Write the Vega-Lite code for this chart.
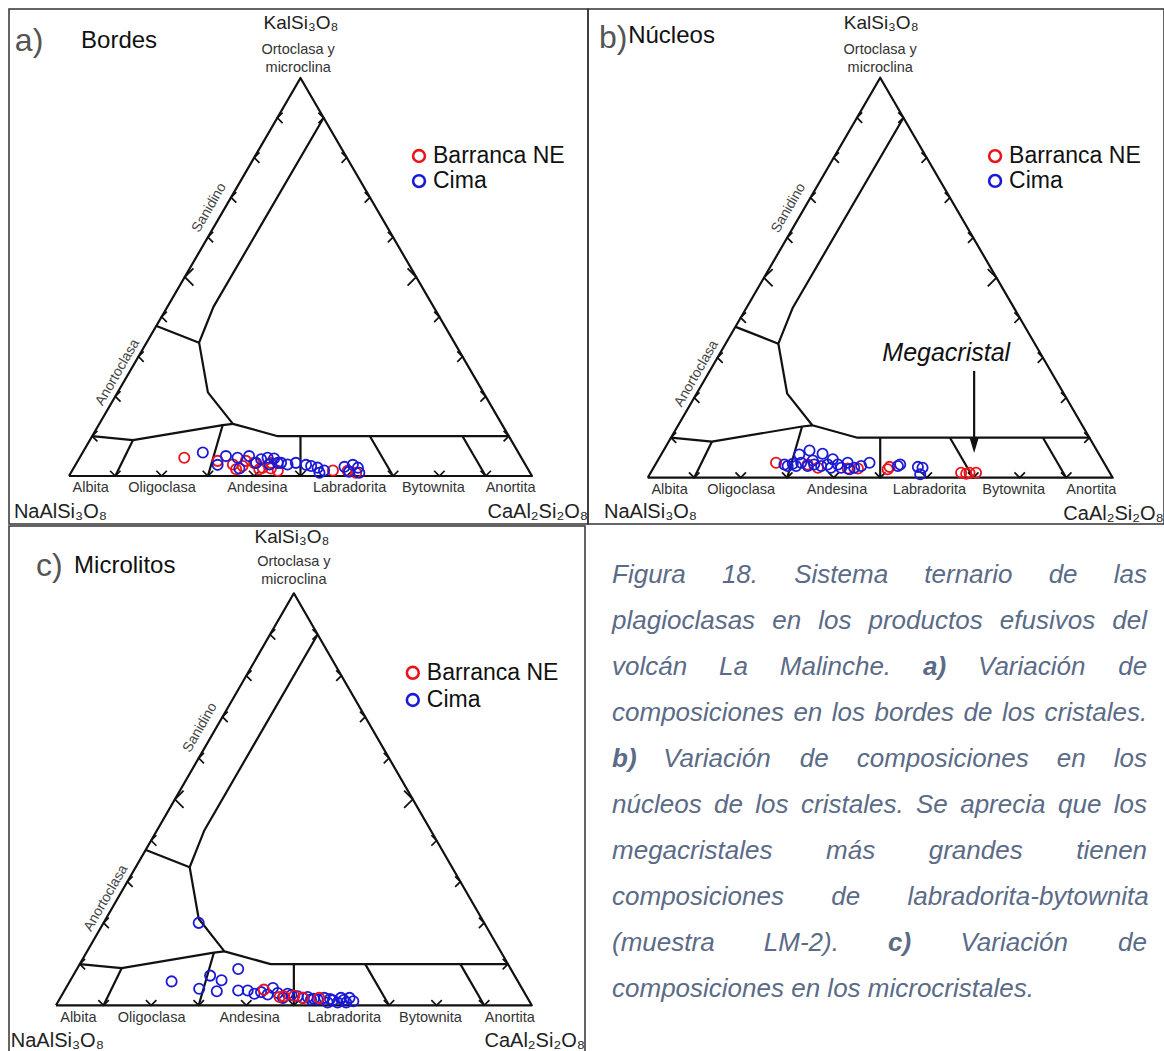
{
  "$schema": "https://vega.github.io/schema/vega-lite/v6.json",
  "padding": {"left": 8, "top": 8, "right": 0, "bottom": 0},
  "background": "white",
  "config": {
    "font": "Liberation Sans",
    "view": {"stroke": "#333333", "strokeWidth": 1.5}
  },
  "datasets": {
    "lines": [
      {"seg": "tri", "i": 0, "x": 0, "y": 0}, {"seg": "tri", "i": 1, "x": 50, "y": 100}, {"seg": "tri", "i": 2, "x": 100, "y": 0}, {"seg": "tri", "i": 3, "x": 0, "y": 0},
      {"seg": "c1", "i": 0, "x": 55, "y": 90}, {"seg": "c1", "i": 1, "x": 31.2, "y": 42.5}, {"seg": "c1", "i": 2, "x": 29.3, "y": 37}, {"seg": "c1", "i": 3, "x": 28.1, "y": 33.5}, {"seg": "c1", "i": 4, "x": 30, "y": 21}, {"seg": "c1", "i": 5, "x": 35.4, "y": 13.1}, {"seg": "c1", "i": 6, "x": 45.1, "y": 10}, {"seg": "c1", "i": 7, "x": 95, "y": 10},
      {"seg": "c2", "i": 0, "x": 18.9, "y": 37.7}, {"seg": "c2", "i": 1, "x": 28.1, "y": 33.5},
      {"seg": "c3", "i": 0, "x": 5, "y": 10}, {"seg": "c3", "i": 1, "x": 13.8, "y": 9.0}, {"seg": "c3", "i": 2, "x": 33.2, "y": 12.8}, {"seg": "c3", "i": 3, "x": 35.4, "y": 13.1},
      {"seg": "d1", "i": 0, "x": 13.8, "y": 9.0}, {"seg": "d1", "i": 1, "x": 10, "y": 0},
      {"seg": "d2", "i": 0, "x": 33.2, "y": 12.8}, {"seg": "d2", "i": 1, "x": 30, "y": 0},
      {"seg": "d3", "i": 0, "x": 50, "y": 10}, {"seg": "d3", "i": 1, "x": 50, "y": 0},
      {"seg": "d4", "i": 0, "x": 65, "y": 10}, {"seg": "d4", "i": 1, "x": 70, "y": 0},
      {"seg": "d5", "i": 0, "x": 85, "y": 10}, {"seg": "d5", "i": 1, "x": 90, "y": 0}
    ],
    "chev": [
      {"side": "L", "k": 1, "x": 5, "y": 10}, {"side": "L", "k": 2, "x": 10, "y": 20}, {"side": "L", "k": 3, "x": 15, "y": 30}, {"side": "L", "k": 4, "x": 20, "y": 40}, {"side": "L", "k": 5, "x": 25, "y": 50}, {"side": "L", "k": 6, "x": 30, "y": 60}, {"side": "L", "k": 7, "x": 35, "y": 70}, {"side": "L", "k": 8, "x": 40, "y": 80}, {"side": "L", "k": 9, "x": 45, "y": 90},
      {"side": "R", "k": 1, "x": 95, "y": 10}, {"side": "R", "k": 2, "x": 90, "y": 20}, {"side": "R", "k": 3, "x": 85, "y": 30}, {"side": "R", "k": 4, "x": 80, "y": 40}, {"side": "R", "k": 5, "x": 75, "y": 50}, {"side": "R", "k": 6, "x": 70, "y": 60}, {"side": "R", "k": 7, "x": 65, "y": 70}, {"side": "R", "k": 8, "x": 60, "y": 80}, {"side": "R", "k": 9, "x": 55, "y": 90},
      {"side": "B", "k": 1, "x": 10, "y": 0}, {"side": "B", "k": 2, "x": 20, "y": 0}, {"side": "B", "k": 3, "x": 30, "y": 0}, {"side": "B", "k": 4, "x": 40, "y": 0}, {"side": "B", "k": 5, "x": 50, "y": 0}, {"side": "B", "k": 6, "x": 60, "y": 0}, {"side": "B", "k": 7, "x": 70, "y": 0}, {"side": "B", "k": 8, "x": 80, "y": 0}, {"side": "B", "k": 9, "x": 90, "y": 0}
    ],
    "minerals": [
      {"t": "Albita", "x": 4.7, "y": -3}, {"t": "Oligoclasa", "x": 20.1, "y": -3}, {"t": "Andesina", "x": 40.7, "y": -3},
      {"t": "Labradorita", "x": 60.6, "y": -3}, {"t": "Bytownita", "x": 78.7, "y": -3}, {"t": "Anortita", "x": 95.4, "y": -3}
    ],
    "edge": [
      {"t": "Sanidino", "x": 30.3, "y": 67.4}, {"t": "Anortoclasa", "x": 10.5, "y": 26.0}
    ],
    "pts": [
      {"panel": "a", "grupo": "Barranca NE", "x": 24.9, "y": 4.6}, {"panel": "a", "grupo": "Barranca NE", "x": 32.1, "y": 3.8}, {"panel": "a", "grupo": "Barranca NE", "x": 35.4, "y": 2.9}, {"panel": "a", "grupo": "Barranca NE", "x": 37.5, "y": 2.5}, {"panel": "a", "grupo": "Barranca NE", "x": 40.0, "y": 3.3}, {"panel": "a", "grupo": "Barranca NE", "x": 41.8, "y": 2.1}, {"panel": "a", "grupo": "Barranca NE", "x": 43.6, "y": 1.9}, {"panel": "a", "grupo": "Barranca NE", "x": 45.1, "y": 1.3}, {"panel": "a", "grupo": "Barranca NE", "x": 43.6, "y": 3.3}, {"panel": "a", "grupo": "Barranca NE", "x": 38.2, "y": 3.8}, {"panel": "a", "grupo": "Barranca NE", "x": 57.0, "y": 1.4}, {"panel": "a", "grupo": "Barranca NE", "x": 60.2, "y": 1.3}, {"panel": "a", "grupo": "Barranca NE", "x": 62.0, "y": 0.8}, {"panel": "a", "grupo": "Barranca NE", "x": 36.1, "y": 1.7}, {"panel": "a", "grupo": "Barranca NE", "x": 41.1, "y": 1.7},
      {"panel": "a", "grupo": "Cima", "x": 28.9, "y": 5.9}, {"panel": "a", "grupo": "Cima", "x": 32.1, "y": 2.8}, {"panel": "a", "grupo": "Cima", "x": 33.9, "y": 5.0}, {"panel": "a", "grupo": "Cima", "x": 36.4, "y": 4.6}, {"panel": "a", "grupo": "Cima", "x": 38.9, "y": 5.0}, {"panel": "a", "grupo": "Cima", "x": 36.8, "y": 1.9}, {"panel": "a", "grupo": "Cima", "x": 41.5, "y": 4.2}, {"panel": "a", "grupo": "Cima", "x": 42.9, "y": 4.6}, {"panel": "a", "grupo": "Cima", "x": 44.3, "y": 4.4}, {"panel": "a", "grupo": "Cima", "x": 45.1, "y": 3.3}, {"panel": "a", "grupo": "Cima", "x": 47.2, "y": 2.9}, {"panel": "a", "grupo": "Cima", "x": 49.0, "y": 3.3}, {"panel": "a", "grupo": "Cima", "x": 51.2, "y": 2.8}, {"panel": "a", "grupo": "Cima", "x": 52.3, "y": 2.5}, {"panel": "a", "grupo": "Cima", "x": 53.7, "y": 2.1}, {"panel": "a", "grupo": "Cima", "x": 54.1, "y": 0.8}, {"panel": "a", "grupo": "Cima", "x": 55.1, "y": 1.4}, {"panel": "a", "grupo": "Cima", "x": 59.5, "y": 2.3}, {"panel": "a", "grupo": "Cima", "x": 61.3, "y": 2.8}, {"panel": "a", "grupo": "Cima", "x": 62.4, "y": 2.1}, {"panel": "a", "grupo": "Cima", "x": 62.7, "y": 0.8}, {"panel": "a", "grupo": "Cima", "x": 60.5, "y": 1.1}, {"panel": "a", "grupo": "Cima", "x": 45.8, "y": 3.3}, {"panel": "a", "grupo": "Cima", "x": 40.4, "y": 3.3}, {"panel": "a", "grupo": "Cima", "x": 43.3, "y": 2.9},
      {"panel": "b", "grupo": "Barranca NE", "x": 27.6, "y": 3.75}, {"panel": "b", "grupo": "Barranca NE", "x": 34.4, "y": 3.3}, {"panel": "b", "grupo": "Barranca NE", "x": 36.6, "y": 2.5}, {"panel": "b", "grupo": "Barranca NE", "x": 43.0, "y": 2.3}, {"panel": "b", "grupo": "Barranca NE", "x": 45.2, "y": 2.3}, {"panel": "b", "grupo": "Barranca NE", "x": 51.6, "y": 2.1}, {"panel": "b", "grupo": "Barranca NE", "x": 52.0, "y": 2.7}, {"panel": "b", "grupo": "Barranca NE", "x": 67.4, "y": 1.25}, {"panel": "b", "grupo": "Barranca NE", "x": 69.2, "y": 1.25}, {"panel": "b", "grupo": "Barranca NE", "x": 70.6, "y": 1.25}, {"panel": "b", "grupo": "Barranca NE", "x": 68.5, "y": 1.0},
      {"panel": "b", "grupo": "Cima", "x": 29.4, "y": 3.3}, {"panel": "b", "grupo": "Cima", "x": 31.2, "y": 3.5}, {"panel": "b", "grupo": "Cima", "x": 32.6, "y": 5.8}, {"panel": "b", "grupo": "Cima", "x": 34.8, "y": 6.8}, {"panel": "b", "grupo": "Cima", "x": 37.6, "y": 6.0}, {"panel": "b", "grupo": "Cima", "x": 33.0, "y": 3.75}, {"panel": "b", "grupo": "Cima", "x": 34.4, "y": 2.9}, {"panel": "b", "grupo": "Cima", "x": 35.8, "y": 3.3}, {"panel": "b", "grupo": "Cima", "x": 37.3, "y": 2.9}, {"panel": "b", "grupo": "Cima", "x": 38.7, "y": 3.3}, {"panel": "b", "grupo": "Cima", "x": 39.8, "y": 4.6}, {"panel": "b", "grupo": "Cima", "x": 39.4, "y": 2.5}, {"panel": "b", "grupo": "Cima", "x": 41.6, "y": 2.5}, {"panel": "b", "grupo": "Cima", "x": 43.0, "y": 3.75}, {"panel": "b", "grupo": "Cima", "x": 44.4, "y": 2.5}, {"panel": "b", "grupo": "Cima", "x": 45.9, "y": 2.9}, {"panel": "b", "grupo": "Cima", "x": 47.7, "y": 3.75}, {"panel": "b", "grupo": "Cima", "x": 35.5, "y": 4.3}, {"panel": "b", "grupo": "Cima", "x": 30.1, "y": 2.9}, {"panel": "b", "grupo": "Cima", "x": 40.9, "y": 3.3}, {"panel": "b", "grupo": "Cima", "x": 31.9, "y": 2.9}, {"panel": "b", "grupo": "Cima", "x": 43.4, "y": 2.1}, {"panel": "b", "grupo": "Cima", "x": 53.8, "y": 2.9}, {"panel": "b", "grupo": "Cima", "x": 54.3, "y": 3.3}, {"panel": "b", "grupo": "Cima", "x": 58.1, "y": 2.7}, {"panel": "b", "grupo": "Cima", "x": 59.1, "y": 2.5}, {"panel": "b", "grupo": "Cima", "x": 58.6, "y": 0.85},
      {"panel": "c", "grupo": "Cima", "x": 30.0, "y": 20.0}, {"panel": "c", "grupo": "Cima", "x": 24.3, "y": 5.8}, {"panel": "c", "grupo": "Cima", "x": 30.1, "y": 4.0}, {"panel": "c", "grupo": "Cima", "x": 32.4, "y": 7.2}, {"panel": "c", "grupo": "Cima", "x": 34.8, "y": 6.1}, {"panel": "c", "grupo": "Cima", "x": 33.8, "y": 3.4}, {"panel": "c", "grupo": "Cima", "x": 38.3, "y": 8.8}, {"panel": "c", "grupo": "Cima", "x": 38.3, "y": 3.6}, {"panel": "c", "grupo": "Cima", "x": 40.3, "y": 3.6}, {"panel": "c", "grupo": "Cima", "x": 41.7, "y": 2.8}, {"panel": "c", "grupo": "Cima", "x": 43.1, "y": 3.2}, {"panel": "c", "grupo": "Cima", "x": 45.6, "y": 4.2}, {"panel": "c", "grupo": "Cima", "x": 44.5, "y": 2.6}, {"panel": "c", "grupo": "Cima", "x": 46.6, "y": 3.0}, {"panel": "c", "grupo": "Cima", "x": 48.7, "y": 2.8}, {"panel": "c", "grupo": "Cima", "x": 50.8, "y": 2.2}, {"panel": "c", "grupo": "Cima", "x": 52.9, "y": 2.0}, {"panel": "c", "grupo": "Cima", "x": 55.0, "y": 1.4}, {"panel": "c", "grupo": "Cima", "x": 56.4, "y": 1.8}, {"panel": "c", "grupo": "Cima", "x": 58.2, "y": 1.2}, {"panel": "c", "grupo": "Cima", "x": 59.9, "y": 1.8}, {"panel": "c", "grupo": "Cima", "x": 61.7, "y": 1.8}, {"panel": "c", "grupo": "Cima", "x": 61.0, "y": 0.7}, {"panel": "c", "grupo": "Cima", "x": 59.2, "y": 0.7}, {"panel": "c", "grupo": "Cima", "x": 57.1, "y": 0.7}, {"panel": "c", "grupo": "Cima", "x": 53.6, "y": 1.4}, {"panel": "c", "grupo": "Cima", "x": 51.9, "y": 1.8}, {"panel": "c", "grupo": "Cima", "x": 47.7, "y": 1.8}, {"panel": "c", "grupo": "Cima", "x": 49.5, "y": 2.5}, {"panel": "c", "grupo": "Cima", "x": 54.2, "y": 1.6}, {"panel": "c", "grupo": "Cima", "x": 57.6, "y": 1.5}, {"panel": "c", "grupo": "Cima", "x": 60.5, "y": 1.3}, {"panel": "c", "grupo": "Cima", "x": 62.5, "y": 1.0},
      {"panel": "c", "grupo": "Barranca NE", "x": 43.7, "y": 3.8}, {"panel": "c", "grupo": "Barranca NE", "x": 47.0, "y": 2.0}, {"panel": "c", "grupo": "Barranca NE", "x": 47.9, "y": 2.2}, {"panel": "c", "grupo": "Barranca NE", "x": 50.1, "y": 2.3}, {"panel": "c", "grupo": "Barranca NE", "x": 51.9, "y": 1.8}, {"panel": "c", "grupo": "Barranca NE", "x": 55.3, "y": 1.8}
    ],
    "cap": [
      {"line": 1, "x": 0, "w": "Figura"}, {"line": 1, "x": 20.54, "w": "18."}, {"line": 1, "x": 34.06, "w": "Sistema"}, {"line": 1, "x": 58.37, "w": "ternario"}, {"line": 1, "x": 81.61, "w": "de"}, {"line": 1, "x": 93.78, "w": "las"},
      {"line": 2, "x": 0, "w": "plagioclasas"}, {"line": 2, "x": 29.94, "w": "en"}, {"line": 2, "x": 38.54, "w": "los"}, {"line": 2, "x": 47.94, "w": "productos"}, {"line": 2, "x": 72.49, "w": "efusivos"}, {"line": 2, "x": 93.51, "w": "del"},
      {"line": 3, "x": 0, "w": "volcán"}, {"line": 3, "x": 20.0, "w": "La"}, {"line": 3, "x": 31.36, "w": "Malinche."}, {"line": 3, "x": 68.41, "w": "Variación"}, {"line": 3, "x": 94.63, "w": "de"},
      {"line": 4, "x": 0, "w": "composiciones"}, {"line": 4, "x": 33.9, "w": "en"}, {"line": 4, "x": 41.08, "w": "los"}, {"line": 4, "x": 49.07, "w": "bordes"}, {"line": 4, "x": 65.7, "w": "de"}, {"line": 4, "x": 72.88, "w": "los"}, {"line": 4, "x": 80.86, "w": "cristales."},
      {"line": 5, "x": 9.57, "w": "Variación"}, {"line": 5, "x": 35.08, "w": "de"}, {"line": 5, "x": 45.74, "w": "composiciones"}, {"line": 5, "x": 83.12, "w": "en"}, {"line": 5, "x": 93.78, "w": "los"},
      {"line": 6, "x": 0, "w": "núcleos"}, {"line": 6, "x": 19.07, "w": "de"}, {"line": 6, "x": 26.79, "w": "los"}, {"line": 6, "x": 35.33, "w": "cristales."}, {"line": 6, "x": 56.82, "w": "Se"}, {"line": 6, "x": 65.08, "w": "aprecia"}, {"line": 6, "x": 83.36, "w": "que"}, {"line": 6, "x": 93.79, "w": "los"},
      {"line": 7, "x": 0, "w": "megacristales"}, {"line": 7, "x": 40.0, "w": "más"}, {"line": 7, "x": 59.2, "w": "grandes"}, {"line": 7, "x": 86.77, "w": "tienen"},
      {"line": 8, "x": 0, "w": "composiciones"}, {"line": 8, "x": 40.97, "w": "de"}, {"line": 8, "x": 55.21, "w": "labradorita-bytownita"},
      {"line": 9, "x": 0, "w": "(muestra"}, {"line": 9, "x": 28.37, "w": "LM-2)."}, {"line": 9, "x": 65.12, "w": "Variación"}, {"line": 9, "x": 94.58, "w": "de"},
      {"line": 10, "x": 0, "w": "composiciones en los microcristales."}
    ],
    "capBold": [
      {"line": 3, "x": 58.13, "w": "a)"}, {"line": 5, "x": 0, "w": "b)"}, {"line": 9, "x": 51.6, "w": "c)"}
    ]
  },
  "spacing": 0,
  "vconcat": [
    {
      "spacing": 0,
      "bounds": "flush",
      "hconcat": [
        {
          "width": 579,
          "height": 515,
          "encoding": {
            "x": {"field": "x", "type": "quantitative", "scale": {"domain": [-12.96, 112.1], "nice": false, "zero": false}, "axis": null},
            "y": {"field": "y", "type": "quantitative", "scale": {"domain": [-12.06, 117.34], "nice": false, "zero": false}, "axis": null}
          },
          "layer": [
            {"data": {"name": "lines"}, "mark": {"type": "line", "stroke": "#111111", "strokeWidth": 2.2, "strokeJoin": "round"}, "encoding": {"detail": {"field": "seg"}, "order": {"field": "i", "type": "quantitative"}}},
            {"data": {"name": "chev"}, "transform": [{"filter": "!(datum.k == 5 && datum.side != 'B')"}], "mark": {"type": "point", "filled": false, "stroke": "#111111", "strokeWidth": 1.7, "opacity": 1, "size": 110}, "encoding": {"shape": {"field": "side", "type": "nominal", "scale": {"domain": ["L", "R", "B"], "range": ["M1,-1L0,0L1,1", "M-1,-1L0,0L-1,1", "M-1,-1L0,0L1,-1"]}, "legend": null}}},
            {"data": {"name": "chev"}, "transform": [{"filter": "datum.k == 5 && datum.side != 'B'"}], "mark": {"type": "point", "filled": false, "stroke": "#111111", "strokeWidth": 1.8, "opacity": 1, "size": 300}, "encoding": {"shape": {"field": "side", "type": "nominal", "scale": {"domain": ["L", "R", "B"], "range": ["M1,-1L0,0L1,1", "M-1,-1L0,0L-1,1", "M-1,-1L0,0L1,-1"]}, "legend": null}}},
            {"data": {"name": "minerals"}, "mark": {"type": "text", "fontSize": 14.5, "color": "#333333"}, "encoding": {"text": {"field": "t"}}},
            {"data": {"name": "edge"}, "mark": {"type": "text", "fontSize": 14, "color": "#444444", "angle": -60}, "encoding": {"text": {"field": "t"}}},
            {"data": {"values": [{"t": "KalSi₃O₈", "x": 50.1, "y": 113.8}]}, "mark": {"type": "text", "fontSize": 19, "color": "#222222"}, "encoding": {"text": {"field": "t"}}},
            {"data": {"values": [{"t": "Ortoclasa y", "x": 49.5, "y": 107.0}, {"t": "microclina", "x": 49.5, "y": 102.5}]}, "mark": {"type": "text", "fontSize": 14.5, "color": "#333333"}, "encoding": {"text": {"field": "t"}}},
            {"data": {"values": [{"t": "NaAlSi₃O₈", "x": -11.9, "y": -9.0}]}, "mark": {"type": "text", "fontSize": 20, "align": "left", "color": "#222222"}, "encoding": {"text": {"field": "t"}}},
            {"data": {"values": [{"t": "CaAl₂Si₂O₈", "x": 112.1, "y": -9.0}]}, "mark": {"type": "text", "fontSize": 20, "align": "right", "color": "#222222"}, "encoding": {"text": {"field": "t"}}},
            {"data": {"values": [{"t": "a)", "x": -11.7, "y": 109.3}]}, "mark": {"type": "text", "fontSize": 32, "align": "left", "color": "#555555"}, "encoding": {"text": {"field": "t"}}},
            {"data": {"values": [{"t": "Bordes", "x": 2.6, "y": 109.3}]}, "mark": {"type": "text", "fontSize": 24, "align": "left", "color": "#111111"}, "encoding": {"text": {"field": "t"}}},
            {"data": {"name": "pts"}, "transform": [{"filter": "datum.panel == 'a'"}], "mark": {"type": "point", "shape": "circle", "filled": false, "strokeWidth": 1.8, "size": 105, "opacity": 1}, "encoding": {"color": {"field": "grupo", "type": "nominal", "scale": {"domain": ["Barranca NE", "Cima"], "range": ["#e8141c", "#1a1ad6"]}, "legend": null}}},
            {"data": {"values": [{"grupo": "Barranca NE", "x": 75.6, "y": 80.4}, {"grupo": "Cima", "x": 75.6, "y": 74.1}]}, "mark": {"type": "point", "shape": "circle", "filled": false, "strokeWidth": 2.6, "size": 140, "opacity": 1}, "encoding": {"color": {"field": "grupo", "type": "nominal", "legend": null}}},
            {"data": {"values": [{"grupo": "Barranca NE", "x": 75.6, "y": 80.4}, {"grupo": "Cima", "x": 75.6, "y": 74.1}]}, "mark": {"type": "text", "fontSize": 23, "align": "left", "dx": 14, "color": "#111111"}, "encoding": {"text": {"field": "grupo"}}}
          ]
        },
        {
          "width": 576,
          "height": 515,
          "encoding": {
            "x": {"field": "x", "type": "quantitative", "scale": {"domain": [-12.84, 111.03], "nice": false, "zero": false}, "axis": null},
            "y": {"field": "y", "type": "quantitative", "scale": {"domain": [-11.58, 117.18], "nice": false, "zero": false}, "axis": null}
          },
          "layer": [
            {"data": {"name": "lines"}, "mark": {"type": "line", "stroke": "#111111", "strokeWidth": 2.2, "strokeJoin": "round"}, "encoding": {"detail": {"field": "seg"}, "order": {"field": "i", "type": "quantitative"}}},
            {"data": {"name": "chev"}, "transform": [{"filter": "!(datum.k == 5 && datum.side != 'B')"}], "mark": {"type": "point", "filled": false, "stroke": "#111111", "strokeWidth": 1.7, "opacity": 1, "size": 110}, "encoding": {"shape": {"field": "side", "type": "nominal", "scale": {"domain": ["L", "R", "B"], "range": ["M1,-1L0,0L1,1", "M-1,-1L0,0L-1,1", "M-1,-1L0,0L1,-1"]}, "legend": null}}},
            {"data": {"name": "chev"}, "transform": [{"filter": "datum.k == 5 && datum.side != 'B'"}], "mark": {"type": "point", "filled": false, "stroke": "#111111", "strokeWidth": 1.8, "opacity": 1, "size": 300}, "encoding": {"shape": {"field": "side", "type": "nominal", "scale": {"domain": ["L", "R", "B"], "range": ["M1,-1L0,0L1,1", "M-1,-1L0,0L-1,1", "M-1,-1L0,0L1,-1"]}, "legend": null}}},
            {"data": {"name": "minerals"}, "mark": {"type": "text", "fontSize": 14.5, "color": "#333333"}, "encoding": {"text": {"field": "t"}}},
            {"data": {"name": "edge"}, "mark": {"type": "text", "fontSize": 14, "color": "#444444", "angle": -60}, "encoding": {"text": {"field": "t"}}},
            {"data": {"values": [{"t": "KalSi₃O₈", "x": 50.2, "y": 113.7}]}, "mark": {"type": "text", "fontSize": 19, "color": "#222222"}, "encoding": {"text": {"field": "t"}}},
            {"data": {"values": [{"t": "Ortoclasa y", "x": 50.0, "y": 106.9}, {"t": "microclina", "x": 50.0, "y": 102.4}]}, "mark": {"type": "text", "fontSize": 14.5, "color": "#333333"}, "encoding": {"text": {"field": "t"}}},
            {"data": {"values": [{"t": "NaAlSi₃O₈", "x": -9.4, "y": -8.6}]}, "mark": {"type": "text", "fontSize": 20, "align": "left", "color": "#222222"}, "encoding": {"text": {"field": "t"}}},
            {"data": {"values": [{"t": "CaAl₂Si₂O₈", "x": 111.0, "y": -9.1}]}, "mark": {"type": "text", "fontSize": 20, "align": "right", "color": "#222222"}, "encoding": {"text": {"field": "t"}}},
            {"data": {"values": [{"t": "b)", "x": -10.5, "y": 109.9}]}, "mark": {"type": "text", "fontSize": 32, "align": "left", "color": "#555555"}, "encoding": {"text": {"field": "t"}}},
            {"data": {"values": [{"t": "Núcleos", "x": -4.2, "y": 110.4}]}, "mark": {"type": "text", "fontSize": 24, "align": "left", "color": "#111111"}, "encoding": {"text": {"field": "t"}}},
            {"data": {"values": [{"t": "Megacristal", "x": 64.2, "y": 31.2}]}, "mark": {"type": "text", "fontSize": 25, "fontStyle": "italic", "color": "#111111"}, "encoding": {"text": {"field": "t"}}},
            {"data": {"values": [{"seg": "arr", "i": 0, "x": 70.2, "y": 26.7}, {"seg": "arr", "i": 1, "x": 70.2, "y": 9.5}]}, "mark": {"type": "line", "stroke": "#111111", "strokeWidth": 2.2}, "encoding": {"order": {"field": "i", "type": "quantitative"}}},
            {"data": {"values": [{"x": 70.2, "y": 8.05}]}, "mark": {"type": "point", "shape": "M-0.6,-1L0.6,-1L0,1Z", "filled": true, "color": "#111111", "size": 225, "opacity": 1}, "encoding": {}},
            {"data": {"name": "pts"}, "transform": [{"filter": "datum.panel == 'b'"}], "mark": {"type": "point", "shape": "circle", "filled": false, "strokeWidth": 1.8, "size": 105, "opacity": 1}, "encoding": {"color": {"field": "grupo", "type": "nominal", "scale": {"domain": ["Barranca NE", "Cima"], "range": ["#e8141c", "#1a1ad6"]}, "legend": null}}},
            {"data": {"values": [{"grupo": "Barranca NE", "x": 74.7, "y": 80.4}, {"grupo": "Cima", "x": 74.7, "y": 74.2}]}, "mark": {"type": "point", "shape": "circle", "filled": false, "strokeWidth": 2.6, "size": 140, "opacity": 1}, "encoding": {"color": {"field": "grupo", "type": "nominal", "legend": null}}},
            {"data": {"values": [{"grupo": "Barranca NE", "x": 74.7, "y": 80.4}, {"grupo": "Cima", "x": 74.7, "y": 74.2}]}, "mark": {"type": "text", "fontSize": 23, "align": "left", "dx": 14, "color": "#111111"}, "encoding": {"text": {"field": "grupo"}}}
          ]
        }
      ]
    },
    {
      "spacing": 0,
      "bounds": "flush",
      "hconcat": [
        {
          "width": 576,
          "height": 527,
          "encoding": {
            "x": {"field": "x", "type": "quantitative", "scale": {"domain": [-9.88, 111.2], "nice": false, "zero": false}, "axis": null},
            "y": {"field": "y", "type": "quantitative", "scale": {"domain": [-11.58, 116.33], "nice": false, "zero": false}, "axis": null}
          },
          "layer": [
            {"data": {"name": "lines"}, "mark": {"type": "line", "stroke": "#111111", "strokeWidth": 2.2, "strokeJoin": "round"}, "encoding": {"detail": {"field": "seg"}, "order": {"field": "i", "type": "quantitative"}}},
            {"data": {"name": "chev"}, "transform": [{"filter": "!(datum.k == 5 && datum.side != 'B')"}], "mark": {"type": "point", "filled": false, "stroke": "#111111", "strokeWidth": 1.7, "opacity": 1, "size": 110}, "encoding": {"shape": {"field": "side", "type": "nominal", "scale": {"domain": ["L", "R", "B"], "range": ["M1,-1L0,0L1,1", "M-1,-1L0,0L-1,1", "M-1,-1L0,0L1,-1"]}, "legend": null}}},
            {"data": {"name": "chev"}, "transform": [{"filter": "datum.k == 5 && datum.side != 'B'"}], "mark": {"type": "point", "filled": false, "stroke": "#111111", "strokeWidth": 1.8, "opacity": 1, "size": 300}, "encoding": {"shape": {"field": "side", "type": "nominal", "scale": {"domain": ["L", "R", "B"], "range": ["M1,-1L0,0L1,1", "M-1,-1L0,0L-1,1", "M-1,-1L0,0L1,-1"]}, "legend": null}}},
            {"data": {"name": "minerals"}, "mark": {"type": "text", "fontSize": 14.5, "color": "#333333"}, "encoding": {"text": {"field": "t"}}},
            {"data": {"name": "edge"}, "mark": {"type": "text", "fontSize": 14, "color": "#444444", "angle": -60}, "encoding": {"text": {"field": "t"}}},
            {"data": {"values": [{"t": "KalSi₃O₈", "x": 49.6, "y": 113.7}]}, "mark": {"type": "text", "fontSize": 19, "color": "#222222"}, "encoding": {"text": {"field": "t"}}},
            {"data": {"values": [{"t": "Ortoclasa y", "x": 50.0, "y": 107.6}, {"t": "microclina", "x": 50.0, "y": 103.2}]}, "mark": {"type": "text", "fontSize": 14.5, "color": "#333333"}, "encoding": {"text": {"field": "t"}}},
            {"data": {"values": [{"t": "NaAlSi₃O₈", "x": -9.5, "y": -8.6}]}, "mark": {"type": "text", "fontSize": 20, "align": "left", "color": "#222222"}, "encoding": {"text": {"field": "t"}}},
            {"data": {"values": [{"t": "CaAl₂Si₂O₈", "x": 111.2, "y": -8.6}]}, "mark": {"type": "text", "fontSize": 20, "align": "right", "color": "#222222"}, "encoding": {"text": {"field": "t"}}},
            {"data": {"values": [{"t": "c)", "x": -4.2, "y": 106.6}]}, "mark": {"type": "text", "fontSize": 32, "align": "left", "color": "#555555"}, "encoding": {"text": {"field": "t"}}},
            {"data": {"values": [{"t": "Microlitos", "x": 3.8, "y": 106.6}]}, "mark": {"type": "text", "fontSize": 24, "align": "left", "color": "#111111"}, "encoding": {"text": {"field": "t"}}},
            {"data": {"name": "pts"}, "transform": [{"filter": "datum.panel == 'c'"}], "mark": {"type": "point", "shape": "circle", "filled": false, "strokeWidth": 1.8, "size": 105, "opacity": 1}, "encoding": {"color": {"field": "grupo", "type": "nominal", "scale": {"domain": ["Barranca NE", "Cima"], "range": ["#e8141c", "#1a1ad6"]}, "legend": null}}},
            {"data": {"values": [{"grupo": "Barranca NE", "x": 75.0, "y": 80.7}, {"grupo": "Cima", "x": 75.0, "y": 74.1}]}, "mark": {"type": "point", "shape": "circle", "filled": false, "strokeWidth": 2.6, "size": 140, "opacity": 1}, "encoding": {"color": {"field": "grupo", "type": "nominal", "legend": null}}},
            {"data": {"values": [{"grupo": "Barranca NE", "x": 75.0, "y": 80.7}, {"grupo": "Cima", "x": 75.0, "y": 74.1}]}, "mark": {"type": "text", "fontSize": 23, "align": "left", "dx": 14, "color": "#111111"}, "encoding": {"text": {"field": "grupo"}}}
          ]
        },
        {
          "width": 580,
          "height": 527,
          "view": {"stroke": null},
          "encoding": {
            "x": {"field": "x", "type": "quantitative", "scale": {"domain": [-5.05, 103.36], "nice": false, "zero": false}, "axis": null},
            "y": {"field": "line", "type": "quantitative", "scale": {"domain": [-0.065, 11.391], "nice": false, "zero": false, "reverse": true}, "axis": null},
            "text": {"field": "w"}
          },
          "layer": [
            {"data": {"name": "cap"}, "mark": {"type": "text", "align": "left", "fontSize": 26, "fontStyle": "italic", "color": "#5b6b87"}},
            {"data": {"name": "capBold"}, "mark": {"type": "text", "align": "left", "fontSize": 26, "fontStyle": "italic", "fontWeight": "bold", "color": "#5b6b87"}}
          ]
        }
      ]
    }
  ]
}
